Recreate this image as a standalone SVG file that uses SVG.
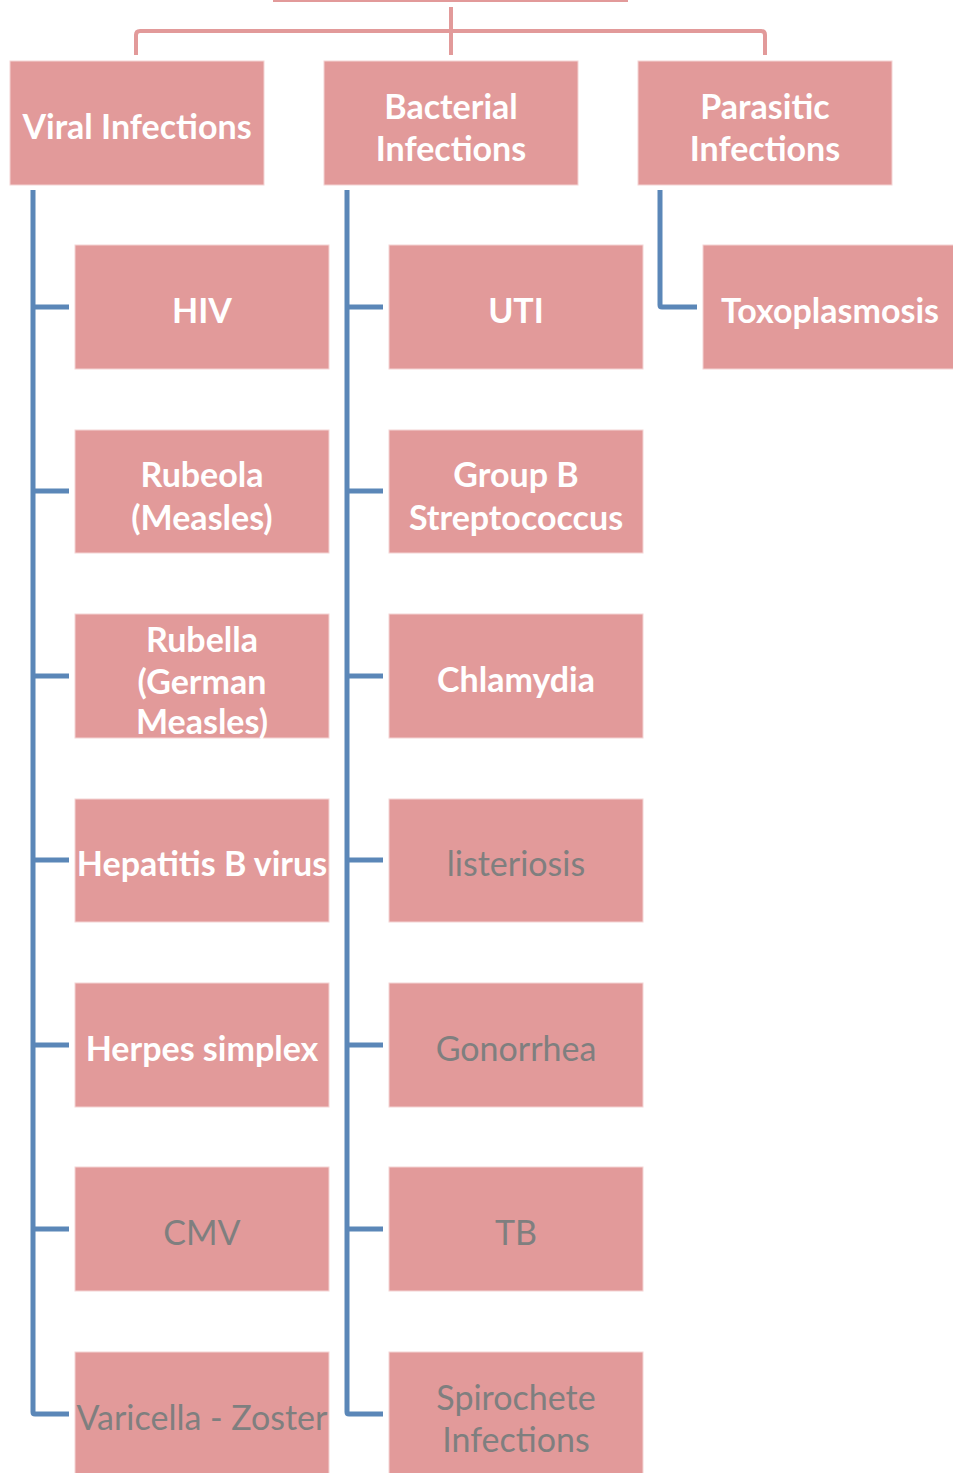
<svg xmlns="http://www.w3.org/2000/svg" width="953" height="1473" viewBox="0 0 953 1473">
<style>
.box{fill:#E29A9A;stroke:#F4D4D4;stroke-width:1}
.t{font-family:Lato,"Open Sans",sans-serif;font-size:34px;text-anchor:middle}
.w{fill:#FFFFFF;font-weight:bold}
.g{fill:#7F7F7F;font-weight:normal}
.pink{fill:none;stroke:#E29A9A;stroke-width:4}
.blue{fill:none;stroke:#5B87B8;stroke-width:5}
</style>
<rect width="953" height="1473" fill="#FFFFFF"/>
<g id="connectors">
<line x1="273" y1="0" x2="628" y2="0" class="pink" stroke-width="3"/>
<path class="pink" d="M451 7 V55 M136 55 V35 Q136 31 140 31 H761 Q765 31 765 35 V55"/>
<path class="blue" d="M33 190 V1412 Q33 1414 35 1414 H69 M33 307 H69 M33 491 H69 M33 676 H69 M33 860 H69 M33 1045 H69 M33 1229 H69"/>
<path class="blue" d="M347 190 V1412 Q347 1414 349 1414 H383 M347 307 H383 M347 491 H383 M347 676 H383 M347 860 H383 M347 1045 H383 M347 1229 H383"/>
<path class="blue" d="M660 190 V305 Q660 307 662 307 H697"/>
</g>
<g id="viral"><rect class="box" x="10" y="61" width="254" height="124"/><text class="t w" x="137" y="139">Viral Infections</text></g>
<g id="bacterial"><rect class="box" x="324" y="61" width="254" height="124"/><text class="t w" x="451" y="119">Bacterial</text><text class="t w" x="451" y="161">Infections</text></g>
<g id="parasitic"><rect class="box" x="638" y="61" width="254" height="124"/><text class="t w" x="765" y="119">Parasitic</text><text class="t w" x="765" y="161">Infections</text></g>

<g id="hiv"><rect class="box" x="75" y="245" width="254" height="124"/><text class="t w" x="202" y="323">HIV</text></g>
<g id="rubeola"><rect class="box" x="75" y="430" width="254" height="123"/><text class="t w" x="202" y="487">Rubeola</text><text class="t w" x="202" y="530">(Measles)</text></g>
<g id="rubella"><rect class="box" x="75" y="614" width="254" height="124"/><text class="t w" x="202" y="652">Rubella</text><text class="t w" x="202" y="694">(German</text><text class="t w" x="202" y="734">Measles)</text></g>
<g id="hepb"><rect class="box" x="75" y="799" width="254" height="123"/><text class="t w" x="202" y="876">Hepatitis B virus</text></g>
<g id="herpes"><rect class="box" x="75" y="983" width="254" height="124"/><text class="t w" x="202" y="1061">Herpes simplex</text></g>
<g id="cmv"><rect class="box" x="75" y="1167" width="254" height="124"/><text class="t g" x="202" y="1245">CMV</text></g>
<g id="varicella"><rect class="box" x="75" y="1352" width="254" height="124"/><text class="t g" x="202" y="1430">Varicella - Zoster</text></g>

<g id="uti"><rect class="box" x="389" y="245" width="254" height="124"/><text class="t w" x="516" y="323">UTI</text></g>
<g id="gbs"><rect class="box" x="389" y="430" width="254" height="123"/><text class="t w" x="516" y="487">Group B</text><text class="t w" x="516" y="530">Streptococcus</text></g>
<g id="chlamydia"><rect class="box" x="389" y="614" width="254" height="124"/><text class="t w" x="516" y="692">Chlamydia</text></g>
<g id="listeriosis"><rect class="box" x="389" y="799" width="254" height="123"/><text class="t g" x="516" y="876">listeriosis</text></g>
<g id="gonorrhea"><rect class="box" x="389" y="983" width="254" height="124"/><text class="t g" x="516" y="1061">Gonorrhea</text></g>
<g id="tb"><rect class="box" x="389" y="1167" width="254" height="124"/><text class="t g" x="516" y="1245">TB</text></g>
<g id="spirochete"><rect class="box" x="389" y="1352" width="254" height="124"/><text class="t g" x="516" y="1410">Spirochete</text><text class="t g" x="516" y="1452">Infections</text></g>

<g id="toxo"><rect class="box" x="703" y="245" width="254" height="124"/><text class="t w" x="830" y="323">Toxoplasmosis</text></g>
</svg>
